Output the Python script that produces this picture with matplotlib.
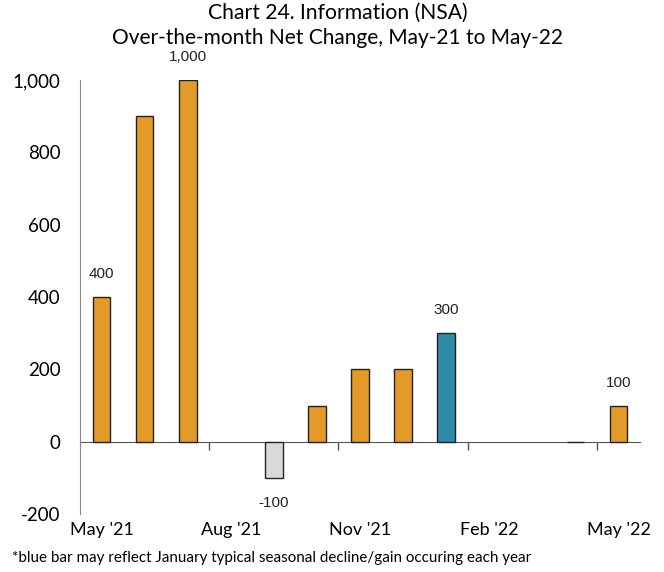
import numpy as np
import matplotlib
matplotlib.use('Agg')
import matplotlib.pyplot as plt

# data (thousands, over-the-month change)
months = ["May-21", "Jun-21", "Jul-21", "Aug-21", "Sep-21", "Oct-21", "Nov-21",
          "Dec-21", "Jan-22", "Feb-22", "Mar-22", "Apr-22", "May-22"]
values = [400, 900, 1000, np.nan, -100, 100, 200, 200, 300, np.nan, np.nan, 0, 100]
bar_colors = ["#E39A28", "#E39A28", "#E39A28", "#E39A28", "#D9D9D9", "#E39A28", "#E39A28",
              "#E39A28", "#2F8AA6", "#E39A28", "#E39A28", "#D9D9D9", "#E39A28"]
label_text = {0: "400", 2: "1,000", 4: "-100", 8: "300", 12: "100"}
xtick_pos = [0, 3, 6, 9, 12]
xtick_labels = ["May '21", "Aug '21", "Nov '21", "Feb '22", "May '22"]
yticks = [-200, 0, 200, 400, 600, 800, 1000]

plt.rcParams['font.family'] = ['Lato', 'DejaVu Sans']

fig = plt.figure(figsize=(6.64, 5.72), dpi=100)
ax = fig.add_axes([80/664, 1 - 514/572, 560/664, 434/572])

x = np.arange(len(months))
ax.bar(x, values, width=0.41, color=bar_colors, edgecolor="#222222", linewidth=1.0, zorder=3)

for i, txt in label_text.items():
    v = values[i]
    off = 16.5 if v >= 0 else -18
    ax.annotate(txt, (x[i], v), xytext=(0, off), textcoords="offset points",
                ha="center", va="center", fontsize=11, family="Liberation Sans", color="#222222")

ax.set_xlim(-0.5, 12.5)
ax.set_ylim(-200, 1000)
ax.set_yticks(yticks)
ax.set_yticklabels([f"{t:,}" for t in yticks], fontsize=13.5)
ax.tick_params(axis="y", length=0, pad=14)

ax.set_xticks(xtick_pos)
ax.set_xticklabels(xtick_labels, fontsize=13)
ax.tick_params(axis="x", length=0, pad=6)

for s in ["top", "right", "bottom"]:
    ax.spines[s].set_visible(False)
ax.spines["left"].set_color("#888888")

# zero line with boundary ticks
zero_ax = ax.secondary_xaxis(0, transform=ax.transData)
zero_ax.set_xticks([2.5, 5.5, 8.5, 11.5])
zero_ax.set_xticklabels([])
zero_ax.tick_params(axis="x", direction="out", length=6, color="#555555", width=1)
zero_ax.spines["bottom"].set_color("#555555")

fig.text(0.5 + 6/664, 1 - 13/572, "Chart 24. Information (NSA)", ha="center", va="center", fontsize=15.2)
fig.text(0.5 + 6/664, 1 - 38/572, "Over-the-month Net Change, May-21 to May-22", ha="center",
         va="center", fontsize=15)
fig.text(12/664, 1 - 558/572, "*blue bar may reflect January typical seasonal decline/gain occuring each year",
         ha="left", va="center", fontsize=10.9)

fig.savefig("out.png", dpi=100)
